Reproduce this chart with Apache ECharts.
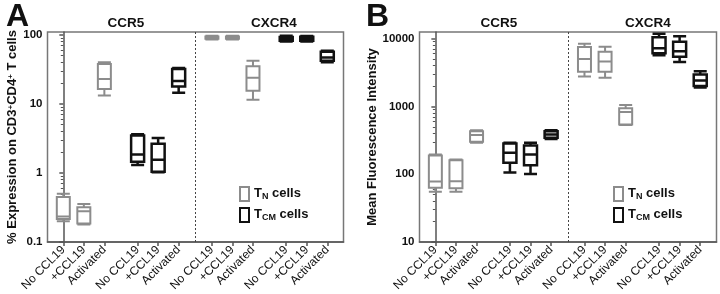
<!DOCTYPE html>
<html>
<head>
<meta charset="utf-8">
<script src="https://cdn.jsdelivr.net/npm/echarts@6/dist/echarts.min.js"></script>
<style>
  html, body { margin: 0; padding: 0; background: #fff; }
  #chart { width: 720px; height: 294px; }
</style>
</head>
<body>
<div id="chart"></div>
<script>
// box values are [min, Q1, median, Q3, max]
const categories = ['No CCL19', '+CCL19', 'Activated'];
const tickLabels = [...categories, ...categories, ...categories, ...categories];

// panel A: % expression, order CCR5 then CXCR4
const expTN = [
  [0.2, 0.215, 0.235, 0.45, 0.5],
  [0.18, 0.185, 0.28, 0.32, 0.355],
  [13.2, 16.5, 23, 38, 40],
  [86, 88, 92, 95, 97],
  [86, 88, 91, 95, 97],
  [11.5, 15.5, 24, 35, 42],
];
const expTCM = [
  [1.3, 1.45, 1.85, 3.5, 3.65],
  [1.02, 1.04, 1.55, 2.65, 3.2],
  [14.5, 17.8, 21.5, 32, 33],
  [80, 82, 88, 93, 97],
  [80, 82, 87, 94, 96],
  [40, 42, 47, 57, 59],
];

// panel B: mean fluorescence intensity
const mfiTN = [
  [55, 63, 78, 188, 195],
  [55, 62, 79, 161, 165],
  [290, 300, 380, 430, 445],
  [2750, 3250, 5000, 7500, 8400],
  [2650, 3250, 4600, 6400, 7600],
  [530, 540, 830, 940, 1050],
];
const mfiTCM = [
  [106, 147, 208, 283, 292],
  [101, 135, 195, 264, 292],
  [330, 345, 385, 430, 445],
  [5700, 6050, 7200, 10500, 11800],
  [4500, 5400, 6500, 9000, 10800],
  [1900, 2000, 2400, 2950, 3300],
];

const expTicks = [0.1, 1, 10, 100];
const mfiTicks = [10, 100, 1000, 10000];

// layout of the 12 boxes on a value axis: 4 groups of 3
const groupStart = [0, 3.62, 7.24, 10.86];
const positions = [];
groupStart.forEach((g) => { [0, 1, 2].forEach((i) => positions.push(g + i)); });
const xMin = -0.77;
const xMax = 13.65;
const dividerX = (groupStart[1] + 2 + groupStart[2]) / 2;

const FONT = '"Liberation Sans", Arial, sans-serif';
const GREY = '#8c8c8c';
const BLACK = '#111';

function minorTicks(lo, hi) {
  const out = [];
  for (let d = lo; d < hi; d *= 10) {
    for (let k = 2; k <= 9; k++) out.push(+(d * k).toPrecision(3));
  }
  return out;
}

function labelFor(v) {
  const idx = positions.findIndex((p) => Math.abs(p - v) < 0.01);
  return idx >= 0 ? tickLabels[idx] : '';
}

function xAxisFor(gridIndex, visible) {
  return {
    type: 'value',
    gridIndex,
    min: xMin,
    max: xMax,
    show: visible,
    splitLine: { show: false },
    axisLine: { lineStyle: { color: '#555', width: 1.5 } },
    axisTick: { customValues: positions, length: 4, lineStyle: { color: '#555', width: 1.5 } },
    axisLabel: {
      customValues: positions,
      rotate: 45,
      margin: 6,
      fontSize: 12,
      color: BLACK,
      fontFamily: FONT,
      formatter: labelFor,
    },
  };
}

function yAxisFor(gridIndex, min, max, ticks, name, nameGap) {
  return {
    type: 'log',
    logBase: 10,
    gridIndex,
    min,
    max,
    position: 'left',
    name,
    nameLocation: 'middle',
    nameGap,
    nameTextStyle: {
      fontSize: 13,
      fontWeight: 'bold',
      color: BLACK,
      fontFamily: FONT,
      rich: {
        sup: { fontSize: 8, fontWeight: 'bold', color: BLACK, fontFamily: FONT, verticalAlign: 'top', lineHeight: 8 },
      },
    },
    splitLine: { show: false },
    axisLine: { show: true, lineStyle: { color: '#555', width: 1.5 } },
    axisTick: { customValues: ticks, length: 4, lineStyle: { color: '#555', width: 1.5 } },
    axisLabel: {
      customValues: ticks,
      margin: 5,
      fontSize: 11.5,
      fontWeight: 'bold',
      color: BLACK,
      fontFamily: FONT,
      formatter: (v) => String(+v.toPrecision(3)),
    },
  };
}

function minorAxisFor(gridIndex, min, max, lo, hi) {
  return {
    type: 'log',
    logBase: 10,
    gridIndex,
    min,
    max,
    position: 'left',
    splitLine: { show: false },
    axisLine: { show: false },
    axisLabel: { show: false },
    axisTick: { show: true, customValues: minorTicks(lo, hi), length: 2.5, lineStyle: { color: '#555', width: 1 } },
  };
}

function boxSeries(name, color, width, data, pos, xAxisIndex, yAxisIndex, divider) {
  const s = {
    type: 'boxplot',
    name,
    layout: 'horizontal',
    xAxisIndex,
    yAxisIndex,
    boxWidth: [13, 13],
    itemStyle: { color: '#fff', borderColor: color, borderWidth: width },
    emphasis: { disabled: true },
    data: data.map((d, i) => [pos[i], ...d]),
  };
  if (divider) {
    s.markLine = {
      silent: true,
      symbol: 'none',
      label: { show: false },
      lineStyle: { color: '#444', width: 1, type: [2, 2] },
      data: [{ xAxis: dividerX }],
    };
  }
  return s;
}

const tnPos = positions.slice(0, 3).concat(positions.slice(6, 9));
const tcmPos = positions.slice(3, 6).concat(positions.slice(9, 12));

const legendRich = {
  a: { fontSize: 13, fontWeight: 'bold', color: BLACK, fontFamily: FONT, verticalAlign: 'top', lineHeight: 15 },
  b: { fontSize: 9, fontWeight: 'bold', color: BLACK, fontFamily: FONT, verticalAlign: 'top', lineHeight: 11, padding: [6, 0, 0, 0] },
};
function legendFor(left) {
  return {
    left,
    top: 181,
    orient: 'vertical',
    icon: 'rect',
    itemWidth: 9,
    itemHeight: 14,
    itemGap: 5,
    selectedMode: false,
    itemStyle: { color: '#fff', borderWidth: 2 },
    data: ['TN', 'TCM'],
    formatter: (n) => (n === 'TN' ? '{a|T}{b|N}{a| cells}' : '{a|T}{b|CM}{a| cells}'),
    textStyle: { rich: legendRich, padding: [0, 0, 0, 0] },
  };
}

function titleAt(text, x, y, size) {
  return {
    text,
    left: x,
    top: y,
    textAlign: 'center',
    textStyle: { fontSize: size, fontWeight: 'bold', color: BLACK, fontFamily: FONT },
  };
}

const chart = echarts.init(document.getElementById('chart'), null, { renderer: 'canvas' });
chart.setOption({
  animation: false,
  title: [
    { text: 'A', left: 1, top: -4, textStyle: { fontSize: 32, fontWeight: 'bold', color: BLACK, fontFamily: FONT } },
    { text: 'B', left: 361, top: -4, textStyle: { fontSize: 32, fontWeight: 'bold', color: BLACK, fontFamily: FONT } },
    titleAt('CCR5', 121, 11, 13.5),
    titleAt('CXCR4', 269, 11, 13.5),
    titleAt('CCR5', 494, 11, 13.5),
    titleAt('CXCR4', 643, 11, 13.5),
  ],
  legend: [legendFor(234), legendFor(608)],
  grid: [
    { left: 47.5, top: 32, width: 296, height: 211, show: true, borderColor: '#777', borderWidth: 1.5, backgroundColor: 'transparent' },
    { left: 419.5, top: 32, width: 297, height: 211, show: true, borderColor: '#777', borderWidth: 1.5, backgroundColor: 'transparent' },
  ],
  xAxis: [
    xAxisFor(0, true),
    xAxisFor(0, false),
    xAxisFor(1, true),
    xAxisFor(1, false),
  ],
  yAxis: [
    yAxisFor(0, 0.1, 110, expTicks, '% Expression on CD3{sup|+}CD4{sup|+} T cells', 27),
    minorAxisFor(0, 0.1, 110, 0.1, 100),
    yAxisFor(1, 10, 12500, mfiTicks, 'Mean Fluorescence Intensity', 41),
    minorAxisFor(1, 10, 12500, 10, 10000),
  ],
  series: [
    boxSeries('TN', GREY, 2, expTN, tnPos, 0, 0, true),
    boxSeries('TCM', BLACK, 2.5, expTCM, tcmPos, 1, 0, false),
    boxSeries('TN', GREY, 2, mfiTN, tnPos, 2, 2, true),
    boxSeries('TCM', BLACK, 2.5, mfiTCM, tcmPos, 3, 2, false),
  ],
});
</script>
</body>
</html>
